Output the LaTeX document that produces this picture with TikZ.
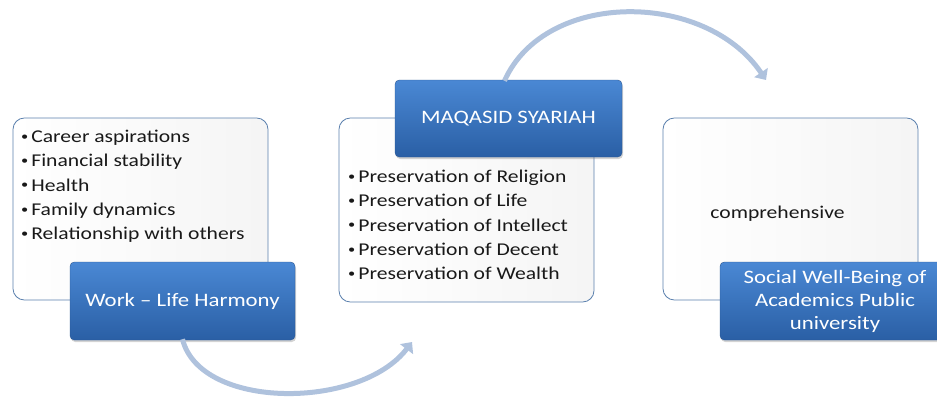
\documentclass[tikz,border=0pt]{standalone}
\usepackage{fontspec}
\setmainfont[FakeStretch = 1.2]{Carlito}
\usetikzlibrary{arrows.meta,shadows}

\definecolor{boxEdge}{HTML}{5B80AE}
\definecolor{titleTop}{HTML}{4A88D4}
\definecolor{titleBottom}{HTML}{2A5FA5}
\definecolor{titleEdge}{HTML}{2B5792}
\definecolor{arrowFill}{HTML}{AFC2DD}

\def\infoBoxWidth{255}
\def\infoBoxHeight{182}
\def\titleBoxWidth{225}
\def\titleBoxHeight{78}
\def\listDot{\raisebox{0.12em}{\fontsize{12}{12}\selectfont\textbullet}\,}

\tikzset{
  infobox/.style = {draw = boxEdge, thick, rounded corners = 4mm,
    left color = white, right color = black!4,
    minimum width = \infoBoxWidth pt, minimum height = \infoBoxHeight pt},
  titlebox/.style = {draw = titleEdge, rounded corners = 1.5mm,
    top color = titleTop, bottom color = titleBottom,
    minimum width = \titleBoxWidth pt, minimum height = \titleBoxHeight pt,
    text = white, font = \fontsize{19}{23}\selectfont, align = center,
    drop shadow = {opacity = 0.35, shadow xshift = 1pt, shadow yshift = -2pt}},
  listtext/.style = {anchor = north west, inner sep = 0pt, align = left,
    font = \fontsize{18}{24.2}\selectfont, text = black!90},
  flowarrow/.style = {draw = arrowFill, line width = 5pt,
    -{Triangle[width = 16pt, length = 9pt]}},
}

\begin{document}
\begin{tikzpicture}[x = 1pt, y = -1pt]
  \useasboundingbox (0,0) rectangle (937,400);
  %% white boxes
  \node [infobox] (wlhInfo) at (140.5,209) {};
  \node [infobox, minimum height = 184pt] (msInfo) at (466.5,210) {};
  \node [infobox] (swbInfo) at (790.5,209) {};
  %% lists
  \node [listtext] (wlhList) at (21,130)
    {\listDot Career aspirations\\
     \listDot Financial stability\\
     \listDot Health\\
     \listDot Family dynamics\\
     \listDot Relationship with others};
  \node [listtext] (msList) at (348,170)
    {\listDot Preservation of Religion\\
     \listDot Preservation of Life\\
     \listDot Preservation of Intellect\\
     \listDot Preservation of Decent\\
     \listDot Preservation of Wealth};
  \node [listtext, anchor = center] (swbText) at (777.5,214) {comprehensive};
  %% title boxes
  \node [titlebox] (wlhTitle) at (182.5,301) {Work -- Life Harmony};
  \node [titlebox, minimum width = 227pt, minimum height = 77pt]
    (msTitle) at (508.5,118.5) {MAQASID SYARIAH};
  \node [titlebox, minimum width = 230pt] (swbTitle) at (835,301)
    {Social Well-Being of\\Academics Public\\university};
  %% arrows
  \coordinate (msIn) at (412,342);
  \coordinate (swbIn) at (766,80);
  \draw [flowarrow] (wlhTitle.south) ++(0,-1)
    .. controls (200,410) and (360,410) .. (msIn);
  \draw [flowarrow] (msTitle.north) ++(-4,1)
    .. controls (545,-10) and (705,-10) .. (swbIn);
\end{tikzpicture}
\end{document}
